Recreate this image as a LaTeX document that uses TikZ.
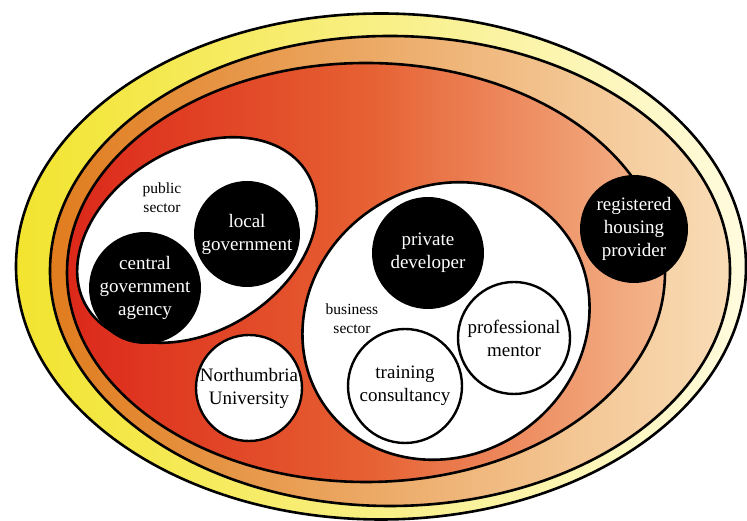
\documentclass[tikz,border=0pt]{standalone}
\usepackage{fontspec}
\setmainfont{Liberation Serif}
\usepackage{xcolor}
\definecolor{bandyellow}{RGB}{242,228,46}
\definecolor{bandcream}{RGB}{255,251,222}
\definecolor{bandorange}{RGB}{224,124,30}
\definecolor{bandpeach}{RGB}{249,220,182}
\definecolor{corered}{RGB}{220,40,26}
\definecolor{coremid}{RGB}{230,96,50}
\definecolor{coresalmon}{RGB}{244,182,140}
\usepackage{tikz}
\newcommand{\membersize}{\fontsize{19}{23}\selectfont}
\newcommand{\sectorsize}{\fontsize{15.5}{19}\selectfont}
\newcommand{\widthmember}{112pt}
\tikzset{
    band/.style={draw, line width=2.6pt},
    blob/.style={draw, fill=white, line width=2.6pt},
    member/.style={circle, inner sep=0pt, align=center, font=\membersize, minimum size=\widthmember},
    keyactor/.style={member, fill=black, text=white},
    partner/.style={member, draw, fill=white, line width=2.4pt},
    sectorname/.style={align=center, font=\sectorsize}
}
\begin{document}
\begin{tikzpicture}[x=1pt, y=1pt]
          \useasboundingbox (0,0) rectangle (747,521);

          \draw[band, left color=bandyellow, right color=bandcream] (381,254.5) ellipse [x radius=365, y radius=253];
          \draw[band, left color=bandorange, right color=bandpeach] (390,250) ellipse [x radius=340, y radius=235];
          \draw[band, left color=corered, right color=coresalmon, middle color=coremid] (366,248.5) ellipse [x radius=299, y radius=209.5];

          \draw[blob, rotate around={31.5:(197,281)}] (197,281) ellipse [x radius=129, y radius=91];
          \draw[blob, rotate around={35:(446,200)}] (446,200) ellipse [x radius=148, y radius=134];

          \node[sectorname] (public-sector) at (162,323) {public\\sector};
          \node[keyactor, minimum size=106pt] (local-gov) at (247,287) {local\\government};
          \node[keyactor] (central-gov) at (145,233) {central\\government\\agency};

          \node[sectorname] (business-sector) at (352,202) {business\\sector};
          \node[keyactor] (developer) at (428,268) {private\\developer};
          \node[partner] (mentor) at (514,183) {professional\\mentor};
          \node[partner, minimum size=114pt] (consultancy) at (405,135) {training\\consultancy};

          \node[partner, minimum size=104pt] (university) at (249,133) {Northumbria\\University};
          \node[keyactor, minimum size=108pt] (housing) at (634,292) {registered\\housing\\provider};
        \end{tikzpicture}
\end{document}
